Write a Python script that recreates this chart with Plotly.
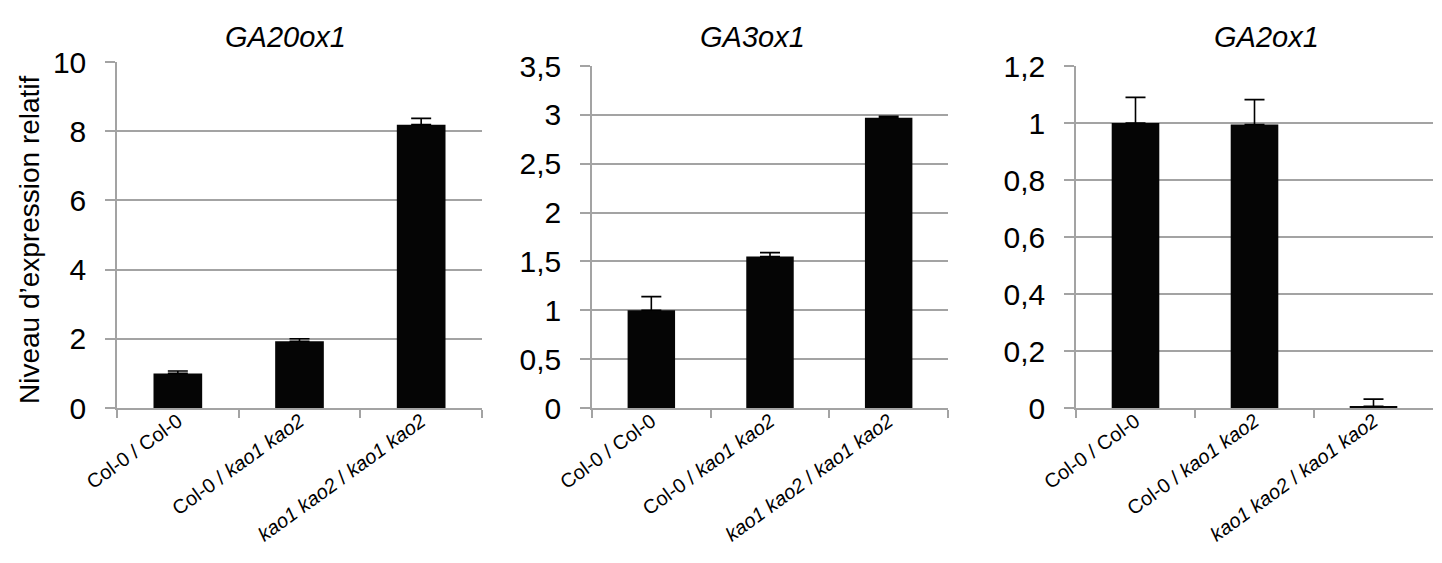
import plotly.graph_objects as go

categories = ["Col-0 / Col-0", "Col-0 / kao1 kao2", "kao1 kao2 / kao1 kao2"]
tick_labels = ["Col-0 / Col-0", "Col-0 / <i>kao1 kao2</i>", "<i>kao1 kao2</i> / <i>kao1 kao2</i>"]
genes = ["GA20ox1", "GA3ox1", "GA2ox1"]

ga20ox1_values = [1.0, 1.93, 8.19]
ga20ox1_err = [0.07, 0.07, 0.18]
ga3ox1_values = [1.0, 1.55, 2.97]
ga3ox1_err = [0.14, 0.04, 0.015]
ga2ox1_values = [1.0, 0.995, 0.006]
ga2ox1_err = [0.09, 0.087, 0.025]

y_ranges = [[0, 10], [0, 3.5], [0, 1.2]]
y_dticks = [2, 0.5, 0.2]

FONT = "Arial, Liberation Sans, Helvetica, sans-serif"
GRID = "#a3a3a3"

# page body has an 8px margin; figure is sized to fit inside the window
OFF = 8
W, H = 1442 - 2 * OFF, 563 - 2 * OFF


def px_x(v):
    return (v - OFF) / W


def px_y(v):
    return 1 - (v - OFF) / H


fig = go.Figure()
series = [(ga20ox1_values, ga20ox1_err), (ga3ox1_values, ga3ox1_err), (ga2ox1_values, ga2ox1_err)]
x_domains = [[px_x(117), px_x(482)], [px_x(592), px_x(948)], [px_x(1076), px_x(1433)]]
y_domains = [[px_y(408), px_y(62)], [px_y(408), px_y(66)], [px_y(408), px_y(66)]]
title_x = [285, 752, 1266]

for i, (vals, errs) in enumerate(series):
    n = "" if i == 0 else str(i + 1)
    fig.add_trace(go.Bar(
        x=categories, y=vals, width=0.4,
        marker=dict(color="#050505", line=dict(width=0)),
        error_y=dict(type="data", symmetric=False, array=errs, arrayminus=[0]*len(errs),
                     color="black", thickness=1.6, width=10),
        xaxis="x" + n, yaxis="y" + n, showlegend=False,
    ))
    fig.layout["xaxis" + n] = dict(
        domain=x_domains[i], anchor="y" + n, type="category", automargin=False,
        tickmode="array", tickvals=categories, ticktext=tick_labels,
        tickangle=-36, tickson="boundaries", ticks="outside", ticklen=8,
        tickcolor=GRID, tickwidth=1.5, ticklabelstandoff=-8,
        showline=True, linecolor=GRID, linewidth=1.5, showgrid=False,
        tickfont=dict(family=FONT, size=20, color="black"),
    )
    fig.layout["yaxis" + n] = dict(
        domain=y_domains[i], anchor="x" + n, range=y_ranges[i], dtick=y_dticks[i],
        automargin=False,
        showgrid=True, gridcolor=GRID, gridwidth=1.5,
        showline=True, linecolor=GRID, linewidth=1.5,
        ticks="outside", ticklen=10, tickcolor=GRID, tickwidth=1.5,
        ticklabelstandoff=13, zeroline=False,
        tickfont=dict(family=FONT, size=30, color="black"),
    )
    fig.add_annotation(text="<i>" + genes[i] + "</i>", xref="paper", yref="paper",
                       x=px_x(title_x[i]), y=px_y(37), showarrow=False,
                       xanchor="center", yanchor="middle",
                       font=dict(family=FONT, size=29, color="black"))

fig.add_annotation(text="Niveau d’expression relatif", xref="paper", yref="paper",
                   x=px_x(30), y=px_y(240), textangle=-90, showarrow=False,
                   xanchor="center", yanchor="middle",
                   font=dict(family=FONT, size=28, color="black"))

fig.update_layout(
    width=W, height=H, margin=dict(l=0, r=0, t=0, b=0),
    paper_bgcolor="white", plot_bgcolor="white", separators=", ",
    bargap=0.6,
)
fig.write_html("out.html")
